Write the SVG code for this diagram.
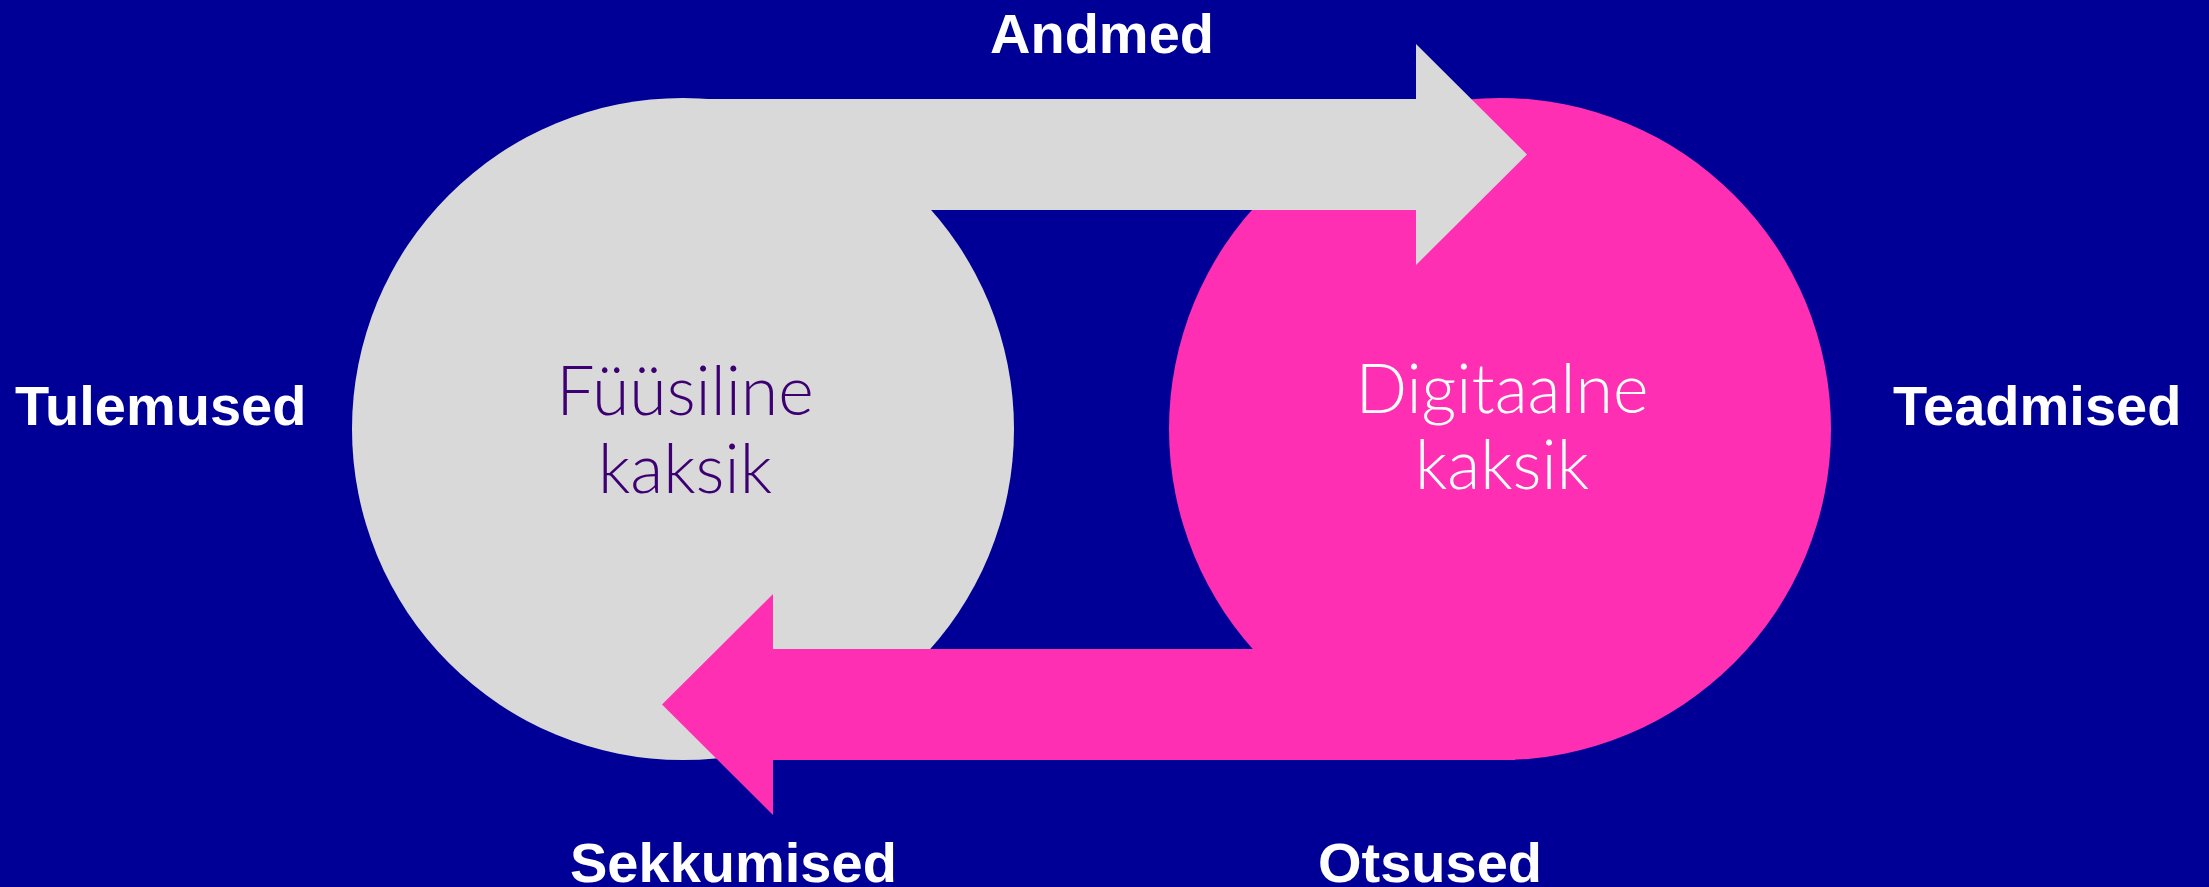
<svg xmlns="http://www.w3.org/2000/svg" width="2209" height="887" viewBox="0 0 2209 887">
<style>
.lbl{font-family:"Liberation Sans",Arial,sans-serif;font-weight:bold;font-size:56px;fill:#ffffff}
.node{font-family:Lato,"Liberation Sans",sans-serif;font-weight:300;font-size:68px;text-anchor:middle}
</style>
<rect width="2209" height="887" fill="#000096"/>
<g id="fyysiline">
<circle cx="683" cy="429" r="331" fill="#d9d9d9"/>
<text class="node" fill="#3d0073" x="685" y="415">Füüsiline</text>
<text class="node" fill="#3d0073" x="685" y="493">kaksik</text>
</g>
<g id="digitaalne">
<circle cx="1500" cy="429" r="331" fill="#ff2fb4"/>
<text class="node" fill="#ffffff" x="1502" y="413">Digitaalne</text>
<text class="node" fill="#ffffff" x="1502" y="489">kaksik</text>
</g>
<g id="connectors">
<polygon fill="#d9d9d9" points="683,99 1416,99 1416,44 1527,154.5 1416,265 1416,210 683,210"/>
<polygon fill="#ff2fb4" points="1515,649 773,649 773,594 662,704.5 773,815 773,760 1515,760"/>
</g>
<g id="labels">
<text class="lbl" x="990" y="53">Andmed</text>
<text class="lbl" x="15" y="425">Tulemused</text>
<text class="lbl" x="1893" y="425">Teadmised</text>
<text class="lbl" x="570" y="882">Sekkumised</text>
<text class="lbl" x="1318" y="882">Otsused</text>
</g>
</svg>
